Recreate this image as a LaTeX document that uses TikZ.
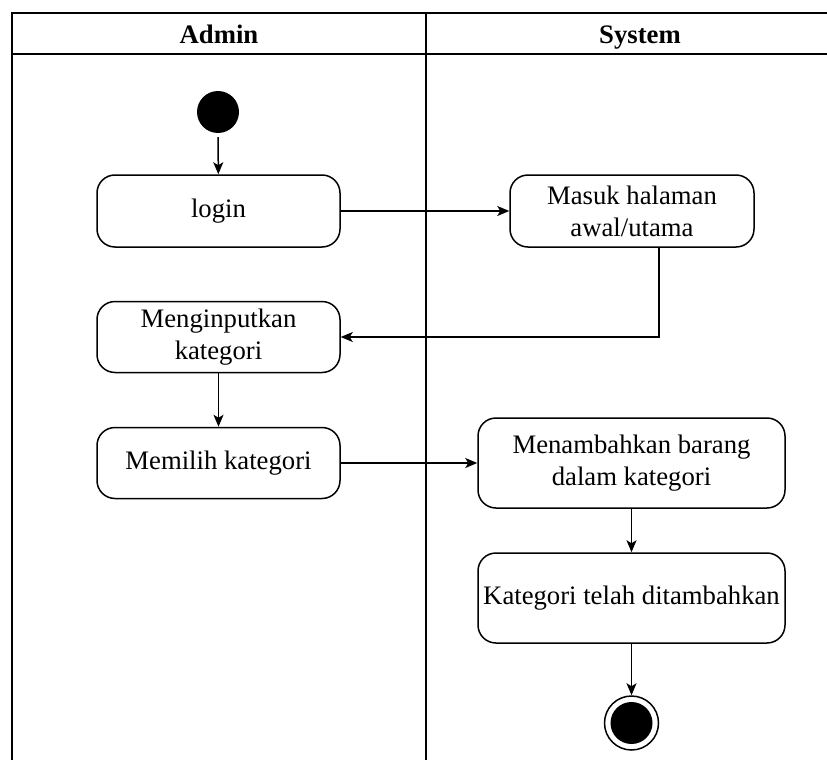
\documentclass[tikz,border=0pt]{standalone}
\usepackage{fontspec}
\setmainfont{Liberation Serif}
\newfontfamily\diagramfont{Liberation Serif}
\usetikzlibrary{arrows.meta}
\begin{document}
\begin{tikzpicture}[x=1pt,y=-1pt,
  lane/.style={line width=1.8pt,draw=black},
  action/.style={draw=black,line width=1.5pt,rounded corners=18pt,fill=white,
    align=center,inner sep=2pt,font=\diagramfont\fontsize{26.7}{32}\selectfont},
  flow/.style={line width=1.5pt,-{Stealth[length=12pt,width=10pt,inset=3pt]}},
  lanetitle/.style={font=\diagramfont\fontsize{26.7}{32}\selectfont\bfseries,
    text height=18pt,text depth=6pt}]
  % page size
  \useasboundingbox (0,0) rectangle (827,760);
  % swimlane frame
  \draw[lane] (12,800) -- (12,13) -- (900,13);
  \draw[lane] (12,54) -- (900,54);
  \draw[lane] (426,13) -- (426,800);
  \node[lanetitle] (tadmin) at (219,38) {Admin};
  \node[lanetitle] (tsystem) at (640,38) {System};

  % start node
  \node[circle,fill=black,minimum size=42pt,inner sep=0pt] (start) at (218,112) {};

  % admin lane actions
  \node[action,minimum width=243pt,minimum height=72pt] (login) at (218.5,211) {login};
  \node[action,minimum width=243pt,minimum height=71pt] (input) at (218.5,337) {Menginputkan\\kategori};
  \node[action,minimum width=243pt,minimum height=71pt] (pilih) at (218.5,463) {Memilih kategori};

  % system lane actions
  \node[action,minimum width=244pt,minimum height=72pt] (masuk) at (632,211) {Masuk halaman\\awal/utama};
  \node[action,minimum width=307pt,minimum height=90pt] (tambah) at (631.5,463) {Menambahkan barang\\dalam kategori};
  \node[action,minimum width=307pt,minimum height=90pt,inner sep=0pt] (telah) at (631.5,598) {Kategori telah ditambahkan};

  % end node
  \node[circle,draw=black,line width=1.5pt,fill=white,minimum size=54pt,inner sep=0pt] (end) at (631.5,723) {};
  \node[circle,fill=black,minimum size=42pt,inner sep=0pt] (endin) at (end.center) {};

  % control flow
  \draw[flow,shorten <=4pt] (start) -- (login);
  \draw[flow] (login.east) -- (masuk.west);
  \draw[flow] ([xshift=27pt]masuk.south) |- (input.east);
  \draw[flow] (input) -- (pilih);
  \draw[flow] (pilih.east) -- (tambah.west);
  \draw[flow] (tambah) -- (telah);
  \draw[flow] (telah) -- (end);
\end{tikzpicture}
\end{document}
